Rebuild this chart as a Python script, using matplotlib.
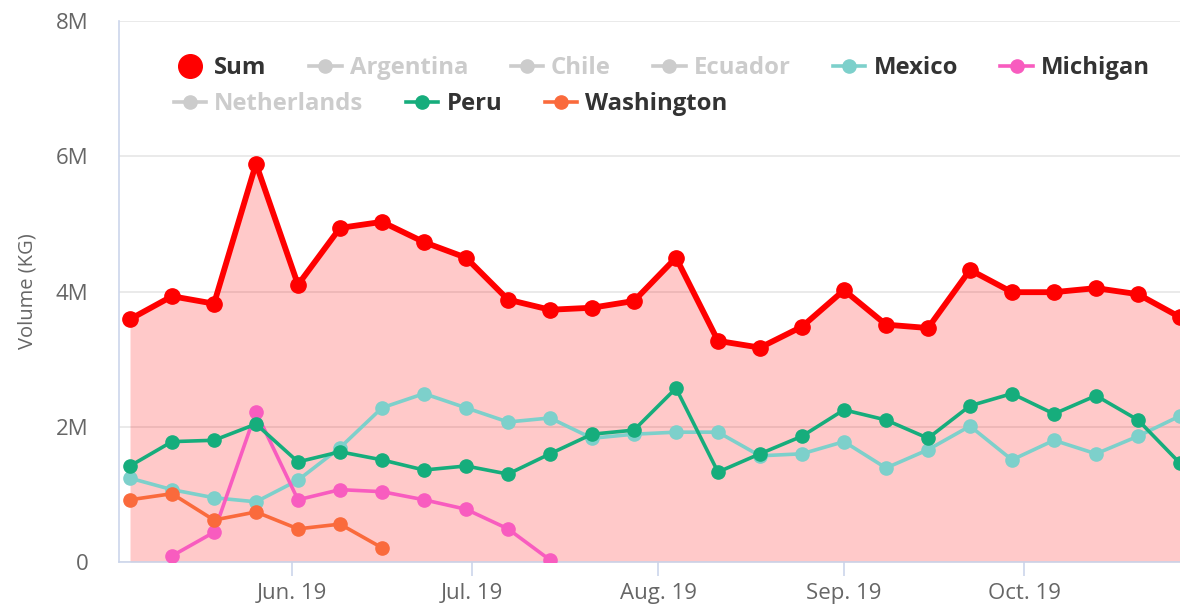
import matplotlib
matplotlib.use("Agg")
from matplotlib import pyplot as plt
from matplotlib.lines import Line2D
import matplotlib.dates as mdates
import pandas as pd

# weekly dates
dates = ["2019-05-05", "2019-05-12", "2019-05-19", "2019-05-26", "2019-06-02",
         "2019-06-09", "2019-06-16", "2019-06-23", "2019-06-30", "2019-07-07",
         "2019-07-14", "2019-07-21", "2019-07-28", "2019-08-04", "2019-08-11",
         "2019-08-18", "2019-08-25", "2019-09-01", "2019-09-08", "2019-09-15",
         "2019-09-22", "2019-09-29", "2019-10-06", "2019-10-13", "2019-10-20",
         "2019-10-27"]

# volumes in KG
sum_vals = [3.59e6, 3.93e6, 3.82e6, 5.89e6, 4.10e6, 4.94e6, 5.03e6, 4.73e6, 4.50e6, 3.88e6,
            3.73e6, 3.76e6, 3.86e6, 4.50e6, 3.27e6, 3.17e6, 3.48e6, 4.02e6, 3.51e6, 3.46e6,
            4.32e6, 3.99e6, 3.99e6, 4.05e6, 3.96e6, 3.62e6]
mexico = [1.24e6, 1.07e6, 0.95e6, 0.89e6, 1.21e6, 1.69e6, 2.28e6, 2.49e6, 2.28e6, 2.07e6,
          2.13e6, 1.83e6, 1.89e6, 1.92e6, 1.92e6, 1.57e6, 1.60e6, 1.78e6, 1.39e6, 1.66e6,
          2.01e6, 1.51e6, 1.80e6, 1.60e6, 1.86e6, 2.16e6]
peru = [1.42e6, 1.78e6, 1.80e6, 2.04e6, 1.48e6, 1.63e6, 1.51e6, 1.36e6, 1.42e6, 1.30e6,
        1.60e6, 1.89e6, 1.95e6, 2.57e6, 1.33e6, 1.60e6, 1.86e6, 2.25e6, 2.10e6, 1.83e6,
        2.31e6, 2.49e6, 2.19e6, 2.46e6, 2.10e6, 1.46e6]
michigan_dates = dates[1:11]
michigan = [0.09e6, 0.44e6, 2.22e6, 0.92e6, 1.07e6, 1.04e6, 0.92e6, 0.78e6, 0.49e6, 0.03e6]
washington_dates = dates[0:7]
washington = [0.92e6, 1.01e6, 0.62e6, 0.74e6, 0.49e6, 0.56e6, 0.21e6]

hidden = ["Argentina", "Chile", "Ecuador", "Netherlands"]

c_sum = "#ff0000"
c_mexico = "#7dd0cb"
c_michigan = "#f85cbf"
c_peru = "#16ad7c"
c_wash = "#fa6a3c"
c_hidden = "#cccccc"

x = pd.to_datetime(dates)
fig = plt.figure(figsize=(11.8, 6.04), dpi=100)
ax = fig.add_axes([119 / 1180, 1 - 562 / 604, 1 - 119 / 1180, (562 - 21) / 604])

lw, ms = 2.6, 9.5
ax.fill_between(x, sum_vals, color=c_sum, alpha=0.21, lw=0, zorder=2)
ax.plot(x, sum_vals, color=c_sum, lw=4.2, marker="o", ms=11, zorder=3)
ax.plot(x, mexico, color=c_mexico, lw=lw, marker="o", ms=ms, zorder=4)
ax.plot(pd.to_datetime(michigan_dates), michigan, color=c_michigan, lw=lw, marker="o", ms=ms, zorder=5)
ax.plot(x, peru, color=c_peru, lw=lw, marker="o", ms=ms, zorder=6)
ax.plot(pd.to_datetime(washington_dates), washington, color=c_wash, lw=lw, marker="o", ms=ms, zorder=7)

ax.set_xlim(pd.Timestamp("2019-05-03 04:00"), pd.Timestamp("2019-10-27"))
ax.set_ylim(0, 8e6)
ax.set_yticks([0, 2e6, 4e6, 6e6, 8e6])
ax.set_yticklabels(["0", "2M", "4M", "6M", "8M"])
ax.xaxis.set_major_locator(mdates.MonthLocator())
ax.xaxis.set_major_formatter(mdates.DateFormatter("%b. %y"))

ax.grid(axis="y", color="#e6e6e6", lw=1.2, zorder=1)
for s in ["top", "right"]:
    ax.spines[s].set_visible(False)
for s in ["left", "bottom"]:
    ax.spines[s].set_color("#ccd6eb")
    ax.spines[s].set_linewidth(1.2)
ax.tick_params(axis="y", length=0, pad=22, labelsize=16, labelcolor="#666666")
ax.tick_params(axis="x", length=10, width=1.2, color="#ccd6eb", pad=5,
               labelsize=16, labelcolor="#666666")
for lab in ax.get_xticklabels() + ax.get_yticklabels():
    lab.set_family("Open Sans")
ax.set_ylabel("Volume (KG)", fontsize=14.5, color="#666666", family="Open Sans", labelpad=13)

# legend in two rows
def item(color, name, big=False):
    if big:
        return Line2D([], [], color=color, lw=0, marker="o", ms=17, label=name)
    return Line2D([], [], color=color, lw=2.6, marker="o", ms=9.5, label=name)

row1 = [item(c_sum, "Sum", True), item(c_hidden, "Argentina"), item(c_hidden, "Chile"),
        item(c_hidden, "Ecuador"), item(c_mexico, "Mexico"), item(c_michigan, "Michigan")]
row2 = [item(c_hidden, "Netherlands"), item(c_peru, "Peru"), item(c_wash, "Washington")]

for handles, y in [(row1, 1 - 56 / 604), (row2, 1 - 92 / 604)]:
    leg = fig.legend(handles=handles, loc="upper left", bbox_to_anchor=(174 / 1180, y),
                     ncol=len(handles), frameon=False, handlelength=1.35, handletextpad=0.34,
                     columnspacing=1.78, borderaxespad=0, borderpad=0,
                     prop={"family": "Open Sans", "weight": "bold", "size": 17.2})
    for t in leg.get_texts():
        t.set_color(c_hidden if t.get_text() in hidden else "#333333")

plt.savefig("out.png", dpi=100)
